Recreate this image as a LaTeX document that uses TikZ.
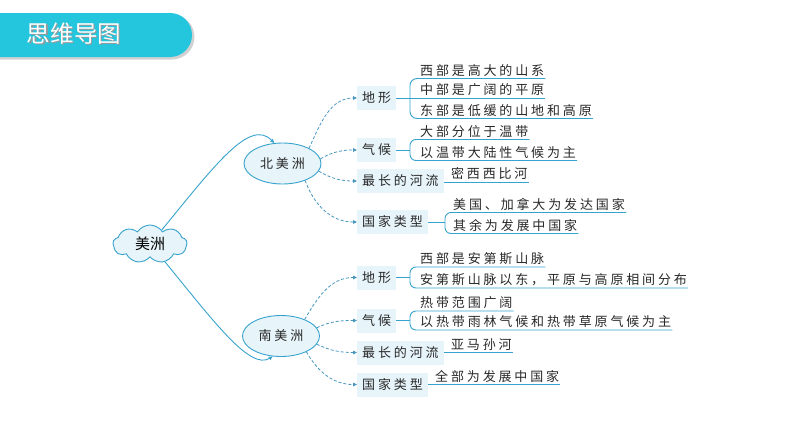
\documentclass[tikz,border=0pt]{standalone}
\usepackage{fontspec}
\usetikzlibrary{shapes.geometric,shapes.symbols,arrows.meta,calc}
\newfontfamily\cjk{Noto Sans CJK SC}
\newfontfamily\cjkcat[LetterSpace=22]{Noto Sans CJK SC}
\newfontfamily\cjkleaf[LetterSpace=22]{Noto Sans CJK SC}
\definecolor{banner}{RGB}{36,198,222}
\definecolor{linec}{RGB}{55,163,205}
\definecolor{dashc}{RGB}{70,150,190}
\definecolor{boxfill}{RGB}{231,244,250}
\definecolor{txt}{RGB}{40,40,40}
\begin{document}
\begin{tikzpicture}[x=1pt,y=1pt,
  cat/.style={fill=boxfill, inner xsep=5pt, inner ysep=0pt, minimum height=24pt, anchor=west, text=txt, font=\cjkcat\fontsize{13}{13}\selectfont},
  leaf/.style={anchor=south west, inner xsep=1pt, inner ysep=2pt, text=txt, font=\cjkleaf\fontsize{13}{13}\selectfont},
  ul/.style={draw=linec, line width=0.9pt},
  dashc/.style={draw=dashc, dash pattern=on 3pt off 2pt, line width=0.8pt, -{Triangle[length=4pt,width=3.5pt]}},
  mainc/.style={draw=linec, line width=0.9pt, -{Triangle[length=4pt,width=3.5pt]}},
  cont/.style={ellipse, draw=linec, fill=boxfill, line width=0.9pt, minimum width=77pt, minimum height=41pt, inner sep=0pt, text=txt, font=\cjkcat\fontsize{13}{13}\selectfont}
]
\useasboundingbox (0,0) rectangle (794,-447);
% header banner
\fill[black,opacity=0.18] (-5,-14.5) -- (172,-14.5) arc (90:-90:22.5) -- (-5,-59.5) -- cycle;
\fill[banner] (-5,-13) -- (170,-13) arc (90:-90:22) -- (-5,-57) -- cycle;
\node[text=black!40, font=\cjk\fontsize{23.5}{23.5}\selectfont, inner sep=0] at (75,-35) {思维导图};
\node[text=white, font=\cjk\fontsize{23.5}{23.5}\selectfont, inner sep=0] (title) at (74,-34) {思维导图};
% central cloud
\node[cloud, cloud puffs=9, cloud puff arc=115, cloud ignores aspect, draw=linec, fill=boxfill, line width=0.9pt, minimum width=74pt, minimum height=38pt, inner sep=0pt, font=\cjk\fontsize{15}{15}\selectfont, text=black] (mz) at (150,-244) {美洲};
% continents
\node[cont] (bei) at (282.5,-163.5) {北美洲};
\node[cont] (nan) at (281,-336) {南美洲};
\draw[mainc] (mz.50) .. controls (215,-165) and (250,-118) .. (bei.112);
\draw[mainc] (mz.-50) .. controls (215,-323) and (250,-370) .. (nan.-112);
% north categories
\node[cat] (n1) at (357,-98) {地形};
\node[cat] (n2) at (357,-150) {气候};
\node[cat] (n3) at (357,-181) {最长的河流};
\node[cat] (n4) at (357,-222) {国家类型};
\draw[dashc] (bei.30) to[out=65,in=180] (n1.west);
\draw[dashc] (bei.7) to[out=30,in=180] (n2.west);
\draw[dashc] (bei.-12) to[out=-30,in=180] (n3.west);
\draw[dashc] (bei.-37) to[out=-70,in=180] (n4.west);
% north leaves
\coordinate (xa) at (410,0);
\coordinate (xb) at (445,0);
\node[leaf] (a1) at (419,-78.5) {西部是高大的山系};
\node[leaf] (a2) at (419,-98) {中部是广阔的平原};
\node[leaf] (a3) at (419,-118.5) {东部是低缓的山地和高原};
\draw[ul, rounded corners=7pt] (a1.south east) -- (a1.south -| xa) -- (a3.south -| xa) -- (a3.south east);
\draw[ul] (n1.east) -- (a2.south east);
\node[leaf] (b1) at (419,-139.5) {大部分位于温带};
\node[leaf] (b2) at (419,-160.5) {以温带大陆性气候为主};
\draw[ul, rounded corners=6pt] (b1.south east) -- (b1.south -| xa) -- (b2.south -| xa) -- (b2.south east);
\coordinate (hb) at (n2.east -| xa);
\draw[ul] (n2.east) -- (hb);
\node[leaf] (c1) at ([xshift=6pt,yshift=-1pt]n3.east) {密西西比河};
\draw[ul] ([yshift=-1pt]n3.east) -- (c1.south east);
\node[leaf] (d1) at (452,-212.5) {美国、加拿大为发达国家};
\node[leaf] (d2) at (452,-233.5) {其余为发展中国家};
\draw[ul, rounded corners=6pt] (d1.south east) -- (d1.south -| xb) -- (d2.south -| xb) -- (d2.south east);
\coordinate (hd) at (n4.east -| xb);
\draw[ul] (n4.east) -- (hd);
% south categories
\node[cat] (m1) at (357,-277.5) {地形};
\node[cat] (m2) at (357,-320.5) {气候};
\node[cat] (m3) at (357,-352.5) {最长的河流};
\node[cat] (m4) at (357,-384.5) {国家类型};
\draw[dashc] (nan.35) to[out=60,in=180] (m1.west);
\draw[dashc] (nan.13) to[out=25,in=180] (m2.west);
\draw[dashc] (nan.-13) to[out=-25,in=180] (m3.west);
\draw[dashc] (nan.-32) to[out=-60,in=180] (m4.west);
% south leaves
\node[leaf] (e1) at (419,-267) {西部是安第斯山脉};
\node[leaf] (e2) at (419,-288) {安第斯山脉以东，平原与高原相间分布};
\draw[ul, rounded corners=6pt] (e1.south east) -- (e1.south -| xa) -- (e2.south -| xa) -- (e2.south east);
\coordinate (he) at (m1.east -| xa);
\draw[ul] (m1.east) -- (he);
\node[leaf] (f1) at (419,-311) {热带范围广阔};
\node[leaf] (f2) at (419,-330) {以热带雨林气候和热带草原气候为主};
\draw[ul, rounded corners=6pt] (f1.south east) -- (f1.south -| xa) -- (f2.south -| xa) -- (f2.south east);
\coordinate (hf) at (m2.east -| xa);
\draw[ul] (m2.east) -- (hf);
\node[leaf] (g1) at ([xshift=6pt]m3.east) {亚马孙河};
\draw[ul] (m3.east) -- (g1.south east);
\node[leaf] (h1) at ([xshift=6pt]m4.east) {全部为发展中国家};
\draw[ul] (m4.east) -- (h1.south east);
\end{tikzpicture}
\end{document}
